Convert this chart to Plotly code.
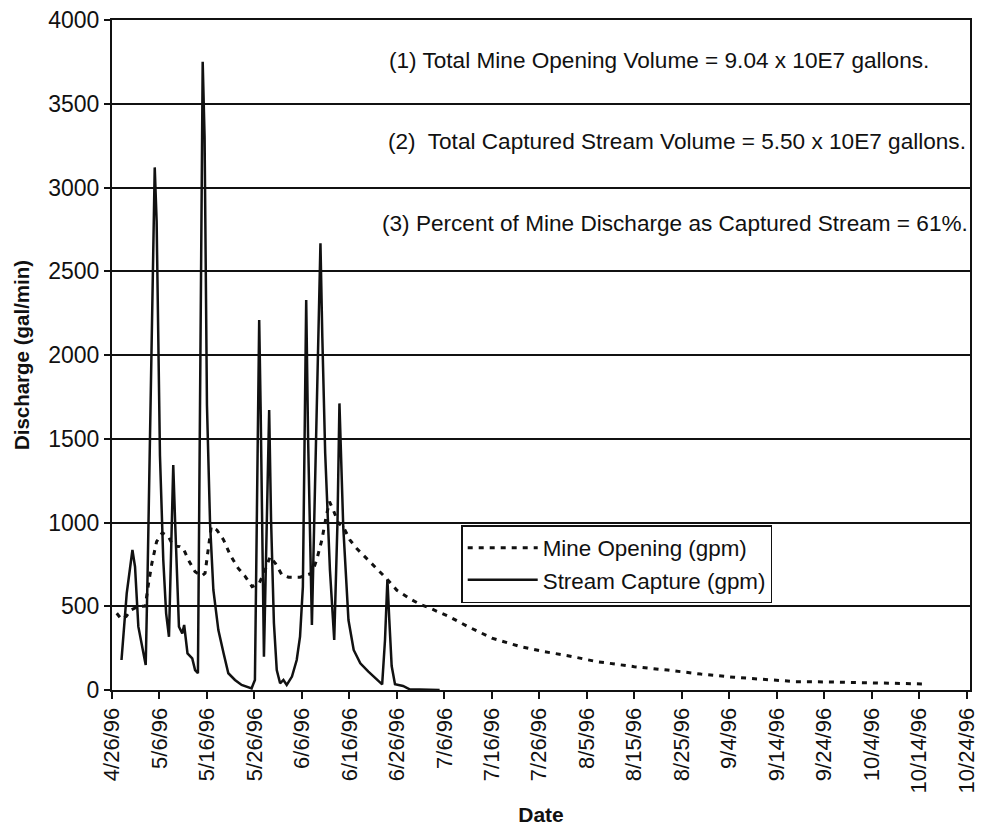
import plotly.graph_objects as go

# ---- data (x = days since 4/26/96) ----
mine_day = [1, 2, 3, 4, 5.5, 7, 7.7, 8.4, 9.4, 10.6, 11.9, 12.9, 14.3, 15, 16.1, 17.5,
            18.9, 19.6, 20.2, 20.9, 22.1, 23.5, 24.9, 26.6, 28, 29.5, 31, 32.3, 33.3,
            34.4, 35.8, 37.2, 39.6, 42.1, 43.1, 44.2, 45.1, 45.8, 46.6, 47.7, 48.7,
            50.1, 51.5, 54, 56, 58, 60, 63, 65, 67, 71, 75, 80, 86, 91, 96, 102, 110,
            117, 124, 131, 138, 144, 151, 161, 171]
mine_gpm = [458, 422, 440, 478, 498, 501, 637, 756, 886, 939, 915, 860, 856, 846, 776, 706,
            681, 697, 826, 975, 955, 896, 806, 726, 680, 617, 637, 720, 796,
            756, 687, 673, 673, 697, 776, 896, 1035, 1124, 1075, 995, 975,
            896, 846, 776, 720, 660, 595, 540, 510, 488, 438, 378, 310, 259, 229, 205, 170, 139,
            119, 95, 76, 60, 50, 48, 44, 36]

stream_day = [2.0, 3.1, 4.3, 4.85, 5.55, 7.1, 7.5, 9.0, 9.4, 10.1, 10.8, 11.4, 12.0, 12.9,
              13.3, 13.6, 14.1, 14.8, 15.2, 15.9, 16.9, 17.5, 18.1, 19.1, 19.5, 20.0, 20.65,
              21.35, 22.4, 23.5, 24.5, 25.9, 27.3, 29.4, 30.1, 31.0, 31.3, 32.0, 33.1, 33.5,
              34.1, 34.7, 35.4, 36.1, 36.8, 37.9, 38.9, 39.6, 40.2, 40.9, 41.3, 42.1, 43.9,
              44.3, 44.9, 45.9, 46.8, 47.5, 47.9, 48.7, 49.8, 50.9, 52.3, 54.0, 55.7, 56.9,
              57.5, 58.0, 58.4, 58.9, 59.6, 61.3, 62.7, 66, 69]
stream_gpm = [179, 577, 836, 736, 378, 149, 697, 3120, 2800, 1400, 776, 458, 318, 1343,
              1000, 736, 378, 338, 388, 219, 189, 119, 100, 3750, 3300, 1700, 995,
              597, 358, 219, 100, 60, 30, 10, 60, 2209, 1690, 199, 1672, 1015,
              400, 119, 40, 60, 30, 80, 179, 318, 617, 2328, 1500, 388, 2667,
              2100, 1413, 716, 299, 1015, 1711, 975, 418, 239, 159, 110, 64, 34,
              300, 660, 420, 143, 34, 24, 4, 0, 0]

tick_days = list(range(0, 181, 10))
tick_labels = ["4/26/96", "5/6/96", "5/16/96", "5/26/96", "6/6/96", "6/16/96", "6/26/96",
               "7/6/96", "7/16/96", "7/26/96", "8/5/96", "8/15/96", "8/25/96", "9/4/96",
               "9/14/96", "9/24/96", "10/4/96", "10/14/96", "10/24/96"]

notes = ["(1) Total Mine Opening Volume = 9.04 x 10E7 gallons.",
         "(2)  Total Captured Stream Volume = 5.50 x 10E7 gallons.",
         "(3) Percent of Mine Discharge as Captured Stream = 61%."]

FONT = "Liberation Sans, Arial, sans-serif"
INK = "#111111"

fig = go.Figure()
fig.add_trace(go.Scatter(x=mine_day, y=mine_gpm, mode="lines", name="Mine Opening (gpm)",
                         line=dict(color=INK, width=3, dash="5px,6px")))
fig.add_trace(go.Scatter(x=stream_day, y=stream_gpm, mode="lines", name="Stream Capture (gpm)",
                         line=dict(color=INK, width=2.5)))

ann = []
for txt, xp, yp in zip(notes, [0.637, 0.659, 0.656], [0.940, 0.819, 0.697]):
    ann.append(dict(text=txt, x=xp, y=yp, xref="paper", yref="paper", showarrow=False,
                    xanchor="center", yanchor="middle",
                    font=dict(family=FONT, size=22.6, color=INK)))

fig.update_layout(
    width=985, height=829,
    margin=dict(l=112, r=15, t=20, b=139),
    paper_bgcolor="white", plot_bgcolor="white",
    font=dict(family=FONT, color=INK, size=20),
    showlegend=True,
    legend=dict(x=0.407, y=0.246, xanchor="left", yanchor="top",
                bgcolor="white", bordercolor=INK, borderwidth=1.5,
                font=dict(family=FONT, size=22.4, color=INK),
                tracegroupgap=0, itemwidth=70),
    annotations=ann,
)
fig.update_xaxes(range=[0, 180.7], tickvals=tick_days, ticktext=tick_labels,
                 tickangle=-90, showgrid=False, zeroline=False, automargin=False,
                 showline=True, linecolor=INK, linewidth=2, mirror=True,
                 ticks="outside", ticklen=7, tickwidth=1.5, tickcolor=INK,
                 tickfont=dict(family=FONT, size=22, color=INK),
                 title=dict(text="<b>Date</b>", font=dict(family=FONT, size=21, color=INK),
                            standoff=15))
fig.update_yaxes(range=[0, 4000], dtick=500, showgrid=True, gridcolor=INK, gridwidth=1.5,
                 zeroline=False, showline=True, linecolor=INK, linewidth=2, mirror=True,
                 automargin=False,
                 ticks="outside", ticklen=6, tickwidth=1.5, tickcolor=INK,
                 tickfont=dict(family=FONT, size=23, color=INK),
                 title=dict(text="<b>Discharge (gal/min)</b>",
                            font=dict(family=FONT, size=20.5, color=INK), standoff=13))

fig.write_html("out.html")
